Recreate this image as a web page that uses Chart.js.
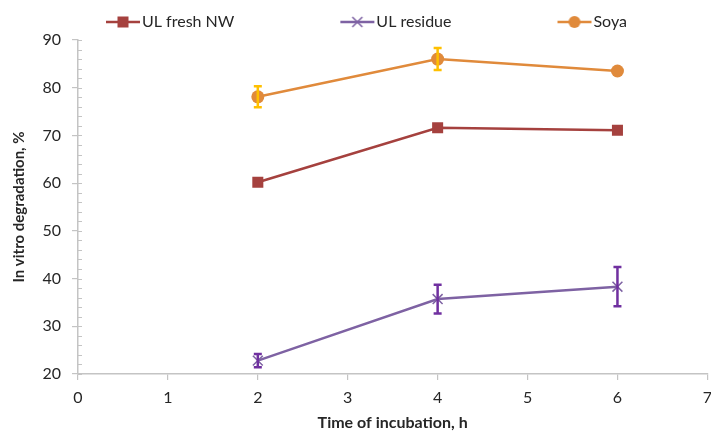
<!DOCTYPE html>
<html><head><meta charset="utf-8">
<script src="https://cdn.jsdelivr.net/npm/chart.js@4.4.0/dist/chart.umd.min.js"></script>
<style>html,body{margin:0;padding:0;background:#fff;overflow:hidden;width:711px;height:438px}#wrap{width:720px;height:438px;position:relative}</style>
</head><body><div id="wrap"><canvas id="c"></canvas></div>
<script>
const hours = [2, 4, 6];
const seriesNames = ['UL fresh NW', 'UL residue', 'Soya'];
const ulFresh = [60.2, 71.6, 71.1];
const ulResidue = [22.8, 35.7, 38.3];
const soya = [78.1, 86.0, 83.5];
const ulFreshErr = [0, 0, 0];
const ulResidueErr = [1.4, 3.0, 4.1];
const soyaErr = [2.2, 2.3, 0];
const xTitle = 'Time of incubation, h';
const yTitle = 'In vitro degradation, %';
const yMinorStep = 2;

const FONT = 'Lato, "Liberation Sans", sans-serif';
const AXIS = '#C4C4C4';
const colors = {
  fresh: '#A5413E',
  residue: '#7E62A3', residueErr: '#7030A0',
  soya: '#E08A3B', soyaErr: '#FFC000'
};
const ICON_W = 124;

function makeIcon(color, style) {
  const iw = ICON_W + 14, ih = 16;
  const cv = document.createElement('canvas');
  cv.width = iw; cv.height = ih;
  const g = cv.getContext('2d');
  const cy = ih / 2;
  const end = ICON_W + 13, start = end - 34, cx = (start + end) / 2;
  g.strokeStyle = color; g.lineWidth = 2.5;
  g.beginPath(); g.moveTo(start, cy); g.lineTo(end, cy); g.stroke();
  g.fillStyle = color;
  if (style === 'rect') { g.fillRect(cx - 5.5, cy - 5.5, 11, 11); }
  else if (style === 'circle') { g.beginPath(); g.arc(cx, cy, 6, 0, Math.PI * 2); g.fill(); }
  else { g.lineWidth = 1.5; g.beginPath(); g.moveTo(cx - 5, cy - 5); g.lineTo(cx + 5, cy + 5); g.moveTo(cx + 5, cy - 5); g.lineTo(cx - 5, cy + 5); g.stroke(); }
  return cv;
}

function pts(arr) { return hours.map((h, i) => ({ x: h, y: arr[i] })); }

const errorBars = {
  id: 'errorBars',
  afterDatasetsDraw(chart) {
    const ctx = chart.ctx, xs = chart.scales.x, ys = chart.scales.y;
    chart.data.datasets.forEach((ds) => {
      if (!ds.errors) return;
      ctx.save();
      ctx.strokeStyle = ds.errorColor; ctx.lineWidth = 2.5;
      ds.data.forEach((p, i) => {
        const e = ds.errors[i];
        if (!e) return;
        const px = xs.getPixelForValue(p.x);
        const t = ys.getPixelForValue(p.y + e), b = ys.getPixelForValue(p.y - e);
        ctx.beginPath();
        ctx.moveTo(px, t); ctx.lineTo(px, b);
        ctx.moveTo(px - 4, t); ctx.lineTo(px + 4, t);
        ctx.moveTo(px - 4, b); ctx.lineTo(px + 4, b);
        ctx.stroke();
      });
      ctx.restore();
    });
  }
};

const minorTicks = {
  id: 'minorTicks',
  beforeDatasetsDraw(chart) {
    const ctx = chart.ctx, ys = chart.scales.y, x0 = chart.chartArea.left;
    ctx.save();
    ctx.strokeStyle = AXIS; ctx.lineWidth = 1.2;
    ctx.beginPath();
    for (let v = ys.min; v <= ys.max + 1e-9; v += yMinorStep) {
      const py = Math.round(ys.getPixelForValue(v)) + 0.5;
      ctx.moveTo(x0, py); ctx.lineTo(x0 + 4, py);
    }
    ctx.stroke();
    ctx.restore();
  }
};

new Chart(document.getElementById('c'), {
  type: 'line',
  data: {
    datasets: [
      { label: seriesNames[0], data: pts(ulFresh), errors: ulFreshErr, errorColor: colors.fresh,
        borderColor: colors.fresh, backgroundColor: colors.fresh, borderWidth: 2.5,
        pointStyle: 'rect', pointRadius: 7.8, pointHoverRadius: 7.8, pointBorderWidth: 0, icon: makeIcon(colors.fresh, 'rect') },
      { label: seriesNames[1], data: pts(ulResidue), errors: ulResidueErr, errorColor: colors.residueErr,
        borderColor: colors.residue, backgroundColor: colors.residue, borderWidth: 2.5,
        pointStyle: 'crossRot', pointRadius: 7, pointHoverRadius: 7, pointBorderWidth: 1.5, icon: makeIcon(colors.residue, 'cross') },
      { label: seriesNames[2], data: pts(soya), errors: soyaErr, errorColor: colors.soyaErr,
        borderColor: colors.soya, backgroundColor: colors.soya, borderWidth: 2.5,
        pointStyle: 'circle', pointRadius: 6.5, pointHoverRadius: 6.5, pointBorderWidth: 0, icon: makeIcon(colors.soya, 'circle') }
    ]
  },
  options: {
    responsive: true, maintainAspectRatio: false, animation: false,
    layout: { padding: { top: 4, left: 0, right: 0, bottom: 0 } },
    plugins: {
      tooltip: { enabled: false },
      legend: {
        position: 'top', align: 'start',
        labels: {
          usePointStyle: true, pointStyleWidth: ICON_W, padding: 10,
          color: '#262626', font: { family: FONT, size: 16 },
          generateLabels(chart) {
            return chart.data.datasets.map((ds, i) => ({
              text: ds.label, pointStyle: ds.icon, fillStyle: ds.borderColor, strokeStyle: ds.borderColor,
              lineWidth: 0, hidden: false, datasetIndex: i, fontColor: '#262626'
            }));
          }
        }
      }
    },
    scales: {
      x: {
        type: 'linear', min: 0, max: 7,
        ticks: { stepSize: 1, color: '#262626', font: { family: FONT, size: 16 }, padding: 8 },
        grid: { drawOnChartArea: false, drawTicks: true, tickLength: 6, color: AXIS, lineWidth: 1.2 },
        border: { color: AXIS, width: 1.5 },
        title: { display: true, text: xTitle, color: '#262626', font: { family: FONT, size: 16, weight: 'bold' }, padding: { top: 6, bottom: 6 } },
        afterFit(s) { s.height = 64; }
      },
      y: {
        min: 20, max: 90,
        ticks: { stepSize: 10, color: '#262626', font: { family: FONT, size: 16 }, padding: 11 },
        grid: { drawOnChartArea: false, drawTicks: true, tickLength: 6, color: AXIS, lineWidth: 1.2 },
        border: { color: AXIS, width: 1.5 },
        title: { display: true, text: yTitle, color: '#262626', font: { family: FONT, size: 15, weight: 'bold' }, padding: { top: 10, bottom: 6 } },
        afterFit(s) { s.width = 78; }
      }
    }
  },
  plugins: [minorTicks, errorBars]
});
</script>
</body></html>
